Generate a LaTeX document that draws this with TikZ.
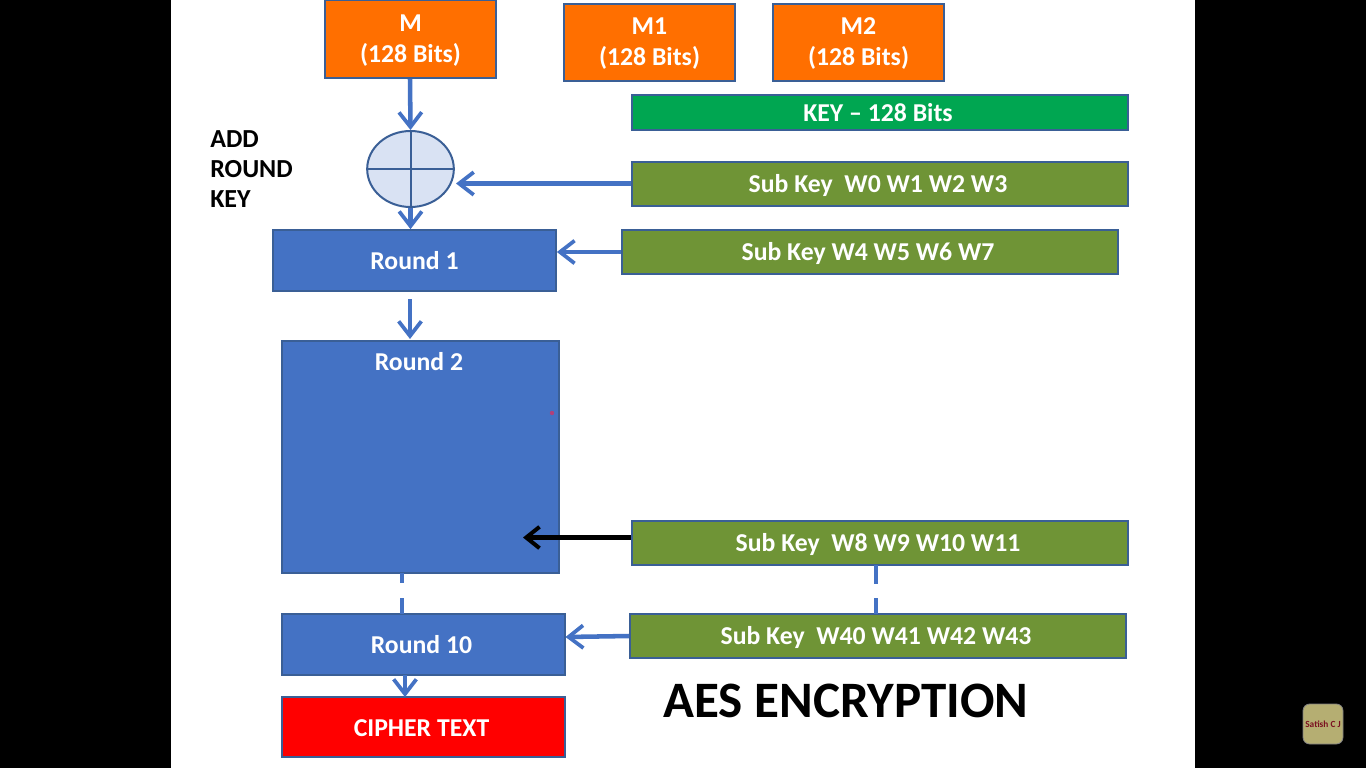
\documentclass[tikz,border=0pt]{standalone}
\usepackage{fontspec}
\setmainfont{Carlito}
\usetikzlibrary{arrows.meta,shapes.geometric,calc}
\definecolor{oboxfill}{HTML}{FF6F00}
\definecolor{bboxfill}{HTML}{4472C4}
\definecolor{bedge}{HTML}{3A5F96}
\definecolor{gboxfill}{HTML}{6F9436}
\definecolor{kboxfill}{HTML}{00A651}
\definecolor{arrowblue}{HTML}{4472C4}
\definecolor{xorfill}{HTML}{D9E2F3}
\definecolor{badge}{HTML}{B5AE72}
\definecolor{badgetext}{HTML}{7A1020}
\definecolor{cursormark}{HTML}{B0407A}
\tikzset{
  x=0.75pt,y=-0.75pt,
  box/.style={draw=bedge,line width=1.3pt,inner sep=0pt,align=center,text=white,font=\fontsize{19.3}{23.5}\selectfont\bfseries},
  orangebox/.style={box,fill=oboxfill},
  bluebox/.style={box,fill=bboxfill},
  greenbox/.style={box,fill=gboxfill},
  flow/.style={draw=arrowblue,line width=3.4pt,-{Straight Barb[length=11pt,width=17pt,line width=2.8pt]}},
  blackflow/.style={draw=black,line width=3.2pt,-{Straight Barb[length=10pt,width=16pt,line width=3pt]}},
  plain/.style={draw=arrowblue,line width=3.4pt},
  lab/.style={inner sep=0pt,text=black,font=\fontsize{19.5}{22.5}\selectfont\bfseries,align=left},
}
\newcommand{\mybox}[6]{\node[#1,minimum width=#4*0.75pt-#2*0.75pt,minimum height=#5*0.75pt-#3*0.75pt] (#6) at ({(#2+#4)/2},{(#3+#5)/2})}
\newcommand{\low}[1]{\rule{0pt}{16pt}#1\kern3pt}
\newcommand{\lefted}[1]{#1\kern3pt}
\newcommand{\tall}{\rule{0pt}{14.5pt}}
\begin{document}
\begin{tikzpicture}
\useasboundingbox (0,0) rectangle (1366,768);
\fill[black] (0,0) rectangle (1366,768);
\fill[white] (171,0) rectangle (1195,768);

\mybox{orangebox}{325}{0}{496}{78}{m} {\tall M\\(128 Bits)};
\mybox{orangebox}{564}{4}{735}{81}{ma} {\tall M1\\(128 Bits)};
\mybox{orangebox}{773}{4}{944}{81}{mb} {\tall M2\\(128 Bits)};
\mybox{box,fill=kboxfill}{632}{95}{1128}{130}{key} {\lefted{KEY -- 128 Bits}};
\mybox{greenbox}{632}{162}{1128}{206}{ska} {\low{Sub Key\ \ W0 W1 W2 W3}};
\mybox{greenbox}{622}{230}{1118}{274}{skb} {\low{Sub Key W4 W5 W6 W7}};
\mybox{greenbox}{632}{521}{1128}{565}{skc} {\low{Sub Key\ \ W8 W9 W10 W11}};
\mybox{greenbox}{630}{614}{1126}{658}{skd} {\low{Sub Key\ \ W40 W41 W42 W43}};
\mybox{bluebox}{273}{230}{556}{291}{ra} {Round 1};
\mybox{bluebox}{282}{341}{559}{573}{rb} {};
\node[inner sep=0pt,text=white,font=\fontsize{19.3}{23}\selectfont\bfseries] (rbl) at (419,362) {Round 2};
\mybox{bluebox}{282}{614}{565}{675}{rc} {\lefted{Round 10}};
\mybox{box,fill=red}{282}{697}{565}{757}{ct} {\rule{0pt}{14pt}\lefted{CIPHER TEXT}};

\node[ellipse,draw=bedge,line width=1.5pt,fill=xorfill,minimum width=65pt,minimum height=57pt,inner sep=0pt] (xor) at (410.5,169) {};
\draw[bedge,line width=1.5pt] (xor.north) -- (xor.south);
\draw[bedge,line width=1.5pt] (xor.west) -- (xor.east);

\node[lab,anchor=north west] (ark) at (210,130) {ADD\\ROUND\\KEY};
\node[inner sep=0pt,text=black,font=\fontsize{38.3}{44}\selectfont\bfseries] (aes) at (846,701) {AES ENCRYPTION};

\coordinate (a1) at (410,78);
\draw[flow] (m.south -| a1) -- (xor.north);
\draw[flow] (xor.south) -- (ra.north -| xor.south);
\coordinate (s1) at (456,183.5);
\draw[flow] (ska.west |- s1) -- (s1);
\draw[flow] (skb.west) -- (ra.east |- skb.west);
\coordinate (a3) at (410,299);
\coordinate (a4) at (410,339);
\draw[flow] (a3) -- (a4);
\coordinate (b1) at (631,537.5);
\coordinate (b2) at (523,537.5);
\draw[blackflow] (b1) -- (b2);

\coordinate (d1) at (402,573);
\coordinate (d2) at (402,583);
\coordinate (d3) at (402,598);
\coordinate (d4) at (402,614);
\draw[plain] (d1) -- (d2);
\draw[plain] (d3) -- (d4);
\coordinate (e1) at (876,565);
\coordinate (e2) at (876,584);
\coordinate (e3) at (876,598);
\coordinate (e4) at (876,614);
\draw[plain] (e1) -- (e2);
\draw[plain] (e3) -- (e4);

\draw[flow] (skd.west) -- (565.5,637);
\coordinate (f1) at (405,675);
\coordinate (f2) at (405,697);
\draw[flow] (f1) -- (f2);

\fill[cursormark] (552,413) circle (2.2);

\node[rounded corners=5pt,fill=badge,draw=gray,line width=0.6pt,minimum width=30pt,minimum height=30pt,inner sep=0pt,text=badgetext,font=\fontsize{7}{8}\selectfont\bfseries] (sat) at (1323,724) {Satish C J};
\end{tikzpicture}
\end{document}
